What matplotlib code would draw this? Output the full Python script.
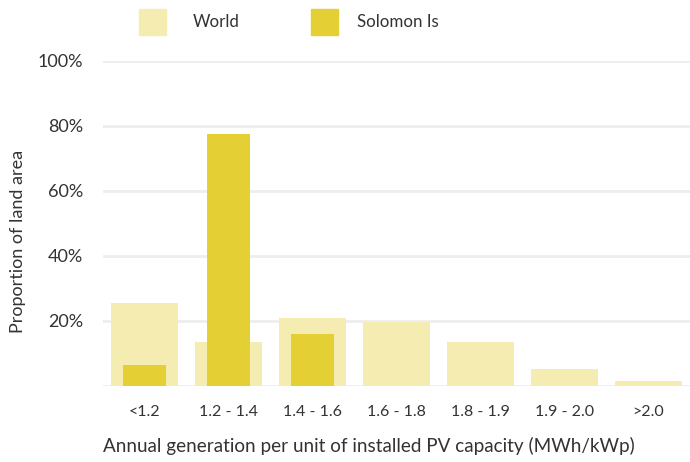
import matplotlib
matplotlib.use('Agg')
import matplotlib.pyplot as plt
from matplotlib.patches import Rectangle

## Data
categories = ['<1.2', '1.2 - 1.4', '1.4 - 1.6', '1.6 - 1.8', '1.8 - 1.9', '1.9 - 2.0', '>2.0']
world = [25.6, 13.4, 20.8, 19.8, 13.4, 5.2, 1.4]
solomon = [6.5, 77.5, 16.0, 0, 0, 0, 0]
series_names = ['World', 'Solomon Is']
yticks = [20, 40, 60, 80, 100]
ytick_labels = ['20%', '40%', '60%', '80%', '100%']

world_col = '#F4ECB0'
solomon_col = '#E4D034'
text_col = '#333333'

plt.rcParams['font.family'] = ['Lato', 'DejaVu Sans']

W, H = 690, 462
fig = plt.figure(figsize=(W / 100, H / 100), dpi=100)
ax = fig.add_axes([0.149, 0.1645, 0.851, 0.7035])

x = range(len(categories))
ax.bar(x, world, width=0.8, color=world_col, zorder=2)
ax.bar(x, solomon, width=0.51, color=solomon_col, zorder=3)

ax.set_xlim(-0.5, 6.5)
ax.set_ylim(0, 100)
ax.set_yticks(yticks)
ax.set_yticklabels(ytick_labels)
ax.set_xticks(list(x))
ax.set_xticklabels(categories)
ax.tick_params(axis='y', length=0, pad=14, labelsize=13, labelcolor=text_col)
ax.tick_params(axis='x', length=0, pad=14, labelsize=11.5, labelcolor=text_col)

# light horizontal grid, including the zero line
for yv in [0] + yticks:
    ax.axhline(yv, color='#eeeeee', lw=2, zorder=1)
for s in ax.spines.values():
    s.set_visible(False)

ax.set_ylabel('Proportion of land area', fontsize=13, color=text_col)
ax.set_xlabel('Annual generation per unit of installed PV capacity (MWh/kWp)',
              fontsize=13.6, color=text_col)
ax.yaxis.set_label_coords(-0.131, 0.446)
ax.xaxis.set_label_coords(0.453, -0.158)

## Legend drawn by hand (pixel positions in figure space)
for name, col, px, tx in zip(series_names, [world_col, solomon_col], [139, 311], [193, 357]):
    fig.add_artist(Rectangle((px / W, 1 - 35 / H), 27 / W, 26 / H,
                             color=col, transform=fig.transFigure))
    fig.text(tx / W, 1 - 22 / H, name, fontsize=12.2, color=text_col,
             ha='left', va='center')

fig.savefig('out.png', dpi=100)
